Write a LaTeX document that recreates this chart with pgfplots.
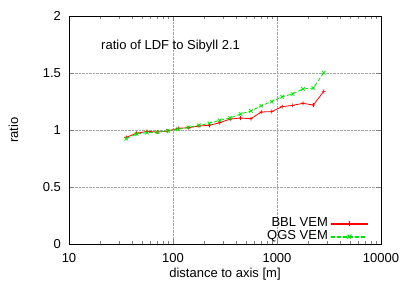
\documentclass[border=0pt]{standalone}
\usepackage{pgfplots}
\pgfplotsset{compat=1.18}
\usepackage{fontspec}
\setmainfont{Liberation Sans}
\definecolor{gpred}{rgb}{1,0,0}
\definecolor{gpgreen}{rgb}{0,0.9,0}
\pgfdeclareplotmark{fplus}{%
  \pgfpathrectangle{\pgfpoint{-\pgfplotmarksize}{-0.35bp}}{\pgfpoint{2\pgfplotmarksize}{0.7bp}}%
  \pgfpathrectangle{\pgfpoint{-0.35bp}{-\pgfplotmarksize}}{\pgfpoint{0.7bp}{2\pgfplotmarksize}}%
  \pgfusepathqfill}
\pgfdeclareplotmark{fcross}{%
  \pgftransformrotate{45}%
  \pgfpathrectangle{\pgfpoint{-1.414\pgfplotmarksize}{-0.35bp}}{\pgfpoint{2.828\pgfplotmarksize}{0.7bp}}%
  \pgfpathrectangle{\pgfpoint{-0.35bp}{-1.414\pgfplotmarksize}}{\pgfpoint{0.7bp}{2.828\pgfplotmarksize}}%
  \pgfusepathqfill}
\pgfplotstableread{
x bbl qgs
35.48 0.936 0.924
44.67 0.971 0.965
56.23 0.988 0.977
70.79 0.982 0.980
89.13 0.991 0.994
112.2 1.015 1.006
141.3 1.020 1.023
177.8 1.035 1.041
223.9 1.041 1.058
281.8 1.064 1.085
354.8 1.096 1.105
446.7 1.105 1.140
562.3 1.099 1.167
707.9 1.158 1.213
891.3 1.161 1.249
1122 1.205 1.292
1413 1.216 1.316
1778 1.234 1.360
2239 1.219 1.368
2818 1.339 1.503
}\data
\begin{document}
\fontsize{13bp}{15bp}\selectfont
\begin{tikzpicture}
\begin{axis}[
  scale only axis, width=312bp, height=228bp,
  at={(0,0)}, anchor=south west,
  xmode=log, xmin=10, xmax=10000, ymin=0, ymax=2,
  xtick={10,100,1000,10000}, xticklabels={10,100,1000,10000},
  minor xtick={20,30,40,50,60,70,80,90,200,300,400,500,600,700,800,900,2000,3000,4000,5000,6000,7000,8000,9000},
  ytick={0,0.5,1,1.5,2}, yticklabels={0,0.5,1,1.5,2},
  /pgf/number format/assume math mode=true,
  grid=major,
  major grid style={densely dotted, black!35, line width=0.6bp},
  axis line style={line width=0.9bp},
  major tick length=5bp, minor tick length=3bp,
  xticklabel style={yshift=-5bp},
  yticklabel style={xshift=-3.5bp},
  xlabel={distance to axis [m]}, ylabel={ratio},
  xlabel style={at={(axis description cs:0.5,-0.13)}, anchor=center},
  ylabel style={at={(axis description cs:-0.178,0.5)}, anchor=center, rotate=0},
  legend plot pos=right,
  legend cell align=right,
  legend style={draw=none, fill=none, at={(axis description cs:0.958,0.004)}, anchor=south east,
    inner sep=0pt, column sep=3bp,
    nodes={inner sep=0pt, text height=9.5bp, text depth=3.2bp}},
]
\addplot[color=gpred, line width=0.8bp, mark=fplus, mark size=2bp, mark options={solid, draw=none, fill=gpred},
  legend image code/.code={\fill[gpred] (0bp,-0.4bp) rectangle (36bp,0.4bp); \fill[gpred] (16bp,-0.35bp) rectangle (20bp,0.35bp) (17.65bp,-2bp) rectangle (18.35bp,2bp);}] table[x=x,y=bbl] {\data};
\addlegendentry{BBL VEM}
\addplot[color=gpgreen, line width=0.8bp, dash pattern=on 4bp off 2bp, mark=fcross, mark size=1.8bp, mark options={solid, draw=none, fill=gpgreen},
  legend image code/.code={\fill[gpgreen] (0bp,-0.4bp) rectangle (4bp,0.4bp) (6bp,-0.4bp) rectangle (10bp,0.4bp) (12bp,-0.4bp) rectangle (16bp,0.4bp) (18bp,-0.4bp) rectangle (22bp,0.4bp) (24bp,-0.4bp) rectangle (28bp,0.4bp) (30bp,-0.4bp) rectangle (34bp,0.4bp); \fill[gpgreen, rotate around={45:(18bp,0bp)}] (15.5bp,-0.35bp) rectangle (20.5bp,0.35bp) (17.65bp,-2.5bp) rectangle (18.35bp,2.5bp);}] table[x=x,y=qgs] {\data};
\addlegendentry{QGS VEM}
\node[anchor=base west, inner sep=0pt] at (rel axis cs:0.1026,0.855) {ratio of LDF to Sibyll 2.1};
\end{axis}
\pgfresetboundingbox
\path (-69bp,-41bp) rectangle (338bp,244bp);
\end{tikzpicture}
\end{document}
